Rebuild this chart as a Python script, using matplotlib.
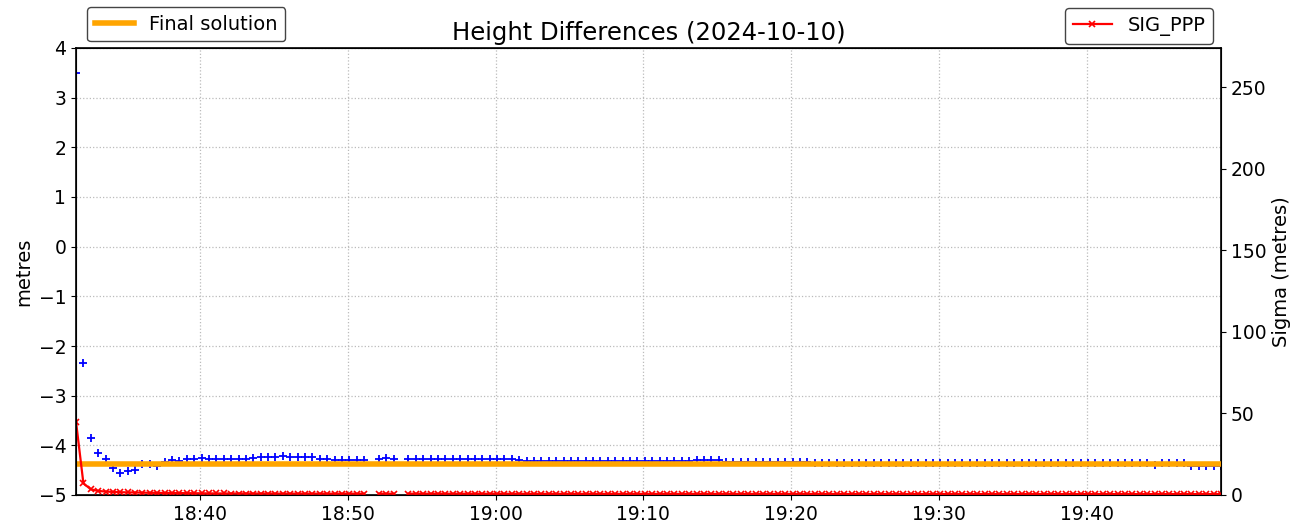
import numpy as np
import pandas as pd
import matplotlib
matplotlib.use("Agg")
import matplotlib.pyplot as plt
import matplotlib.dates as mdates

nan = np.nan

# Epochs: 30-second sampling
start_time = "2024-10-10 18:31:36"
n_epochs = 156
times = pd.date_range(start_time, periods=n_epochs, freq="30s")

# Height differences (metres)
height_diff = [
    3.50, -2.35, -3.85, -4.16, -4.28, -4.46, -4.55, -4.52, -4.50, -4.37,
    -4.37, -4.41, -4.33, -4.30, -4.31, -4.28, -4.28, -4.26, -4.28, -4.27,
    -4.27, -4.27, -4.27, -4.27, -4.26, -4.24, -4.24, -4.23, -4.21, -4.23,
    -4.23, -4.24, -4.24, -4.28, -4.28, -4.29, -4.30, -4.29, -4.29, -4.29,
    nan, -4.28, -4.26, -4.28, nan, -4.28, -4.28, -4.27, -4.28, -4.28,
    -4.28, -4.27, -4.28, -4.28, -4.28, -4.28, -4.27, -4.28, -4.28, -4.28,
    -4.29, -4.31, -4.31, -4.31, -4.31, -4.31, -4.31, -4.31, -4.31, -4.31,
    -4.31, -4.31, -4.31, -4.31, -4.31, -4.31, -4.31, -4.31, -4.31, -4.31,
    -4.31, -4.31, -4.31, -4.31, -4.30, -4.30, -4.30, -4.30, -4.33, -4.33,
    -4.33, -4.33, -4.33, -4.33, -4.33, -4.33, -4.33, -4.33, -4.33, -4.33,
    -4.36, -4.36, -4.36, -4.36, -4.36, -4.36, -4.36, -4.36, -4.36, -4.36,
    -4.36, -4.36, -4.36, -4.36, -4.36, -4.36, -4.36, -4.36, -4.36, -4.36,
    -4.36, -4.36, -4.36, -4.36, -4.36, -4.36, -4.36, -4.36, -4.36, -4.36,
    -4.36, -4.36, -4.36, -4.36, -4.36, -4.36, -4.35, -4.35, -4.35, -4.35,
    -4.35, -4.35, -4.35, -4.35, -4.35, -4.35, -4.40, -4.35, -4.35, -4.35,
    -4.35, -4.42, -4.42, -4.42, -4.42, -4.42,
]

# Sigma of PPP solution (metres)
sig_ppp = [
    45.0, 7.2, 3.5, 2.5, 2.1, 1.9, 1.7, 1.6, 1.5, 1.4,
    1.35, 1.3, 1.25, 1.2, 1.15, 1.1, 1.05, 1.0, 1.0, 0.95,
    0.95, 0.9, 0.9, 0.9, 0.9, 0.9, 0.85, 0.85, 0.85, 0.85,
    0.85, 0.85, 0.85, 0.8, 0.8, 0.8, 0.8, 0.8, 0.8, 0.8,
    nan, 0.8, 0.8, 0.8, nan, 0.8, 0.8, 0.8, 0.8, 0.75,
    0.75, 0.75, 0.75, 0.75, 0.75, 0.75, 0.75, 0.75, 0.75, 0.75,
    0.7, 0.7, 0.7, 0.7, 0.7, 0.7, 0.7, 0.7, 0.7, 0.7,
    0.7, 0.7, 0.7, 0.7, 0.7, 0.7, 0.7, 0.7, 0.7, 0.7,
    0.65, 0.65, 0.65, 0.65, 0.65, 0.65, 0.65, 0.65, 0.65, 0.65,
    0.65, 0.65, 0.65, 0.65, 0.65, 0.65, 0.65, 0.65, 0.65, 0.65,
    0.6, 0.6, 0.6, 0.6, 0.6, 0.6, 0.6, 0.6, 0.6, 0.6,
    0.6, 0.6, 0.6, 0.6, 0.6, 0.6, 0.6, 0.6, 0.6, 0.6,
    0.6, 0.6, 0.6, 0.6, 0.6, 0.6, 0.6, 0.6, 0.6, 0.6,
    0.55, 0.55, 0.55, 0.55, 0.55, 0.55, 0.55, 0.55, 0.55, 0.55,
    0.55, 0.55, 0.55, 0.55, 0.55, 0.55, 0.55, 0.55, 0.55, 0.55,
    0.55, 0.55, 0.55, 0.55, 0.55, 0.55,
]

final_solution = -4.37

title = "Height Differences (2024-10-10)"

fig = plt.figure(figsize=(13.16, 5.31), dpi=100)
ax = fig.add_axes([76 / 1316, 1 - 495 / 531, (1221 - 76) / 1316, (495 - 48) / 531])

ax.plot(times, height_diff, linestyle="none", marker="+", color="blue",
        markersize=6, markeredgewidth=1.3, zorder=2)
ax.axhline(final_solution, color="orange", linewidth=4, zorder=3,
           label="Final solution")
ax.set_ylim(-5, 4)
ax.set_xlim(times[0], times[-1])
ax.set_ylabel("metres", fontsize=14)
ax.set_title(title, fontsize=17.5)
ax.grid(True, linestyle=":", color="#bbbbbb", linewidth=0.9)
ax.xaxis.set_major_locator(mdates.MinuteLocator(byminute=range(0, 60, 10)))
ax.xaxis.set_major_formatter(mdates.DateFormatter("%H:%M"))
ax.tick_params(labelsize=13.5)
for sp in ax.spines.values():
    sp.set_linewidth(1.2)

ax2 = ax.twinx()
ax2.plot(times, sig_ppp, color="red", marker="x", markersize=5,
         markeredgewidth=1.2, linewidth=1.6, label="SIG_PPP")
ax2.set_ylim(0, 274)
ax2.set_ylabel("Sigma (metres)", fontsize=14)
ax2.tick_params(labelsize=13.5)

leg1 = ax.legend(loc="upper left", bbox_to_anchor=(0.0096, 1.092),
                 borderaxespad=0, fontsize=14, framealpha=1,
                 edgecolor="#444444", fancybox=True)
leg2 = ax2.legend(loc="upper right", bbox_to_anchor=(0.993, 1.089),
                  borderaxespad=0, fontsize=14, framealpha=1,
                  edgecolor="#444444", fancybox=True)

fig.savefig("out.png", dpi=100)
